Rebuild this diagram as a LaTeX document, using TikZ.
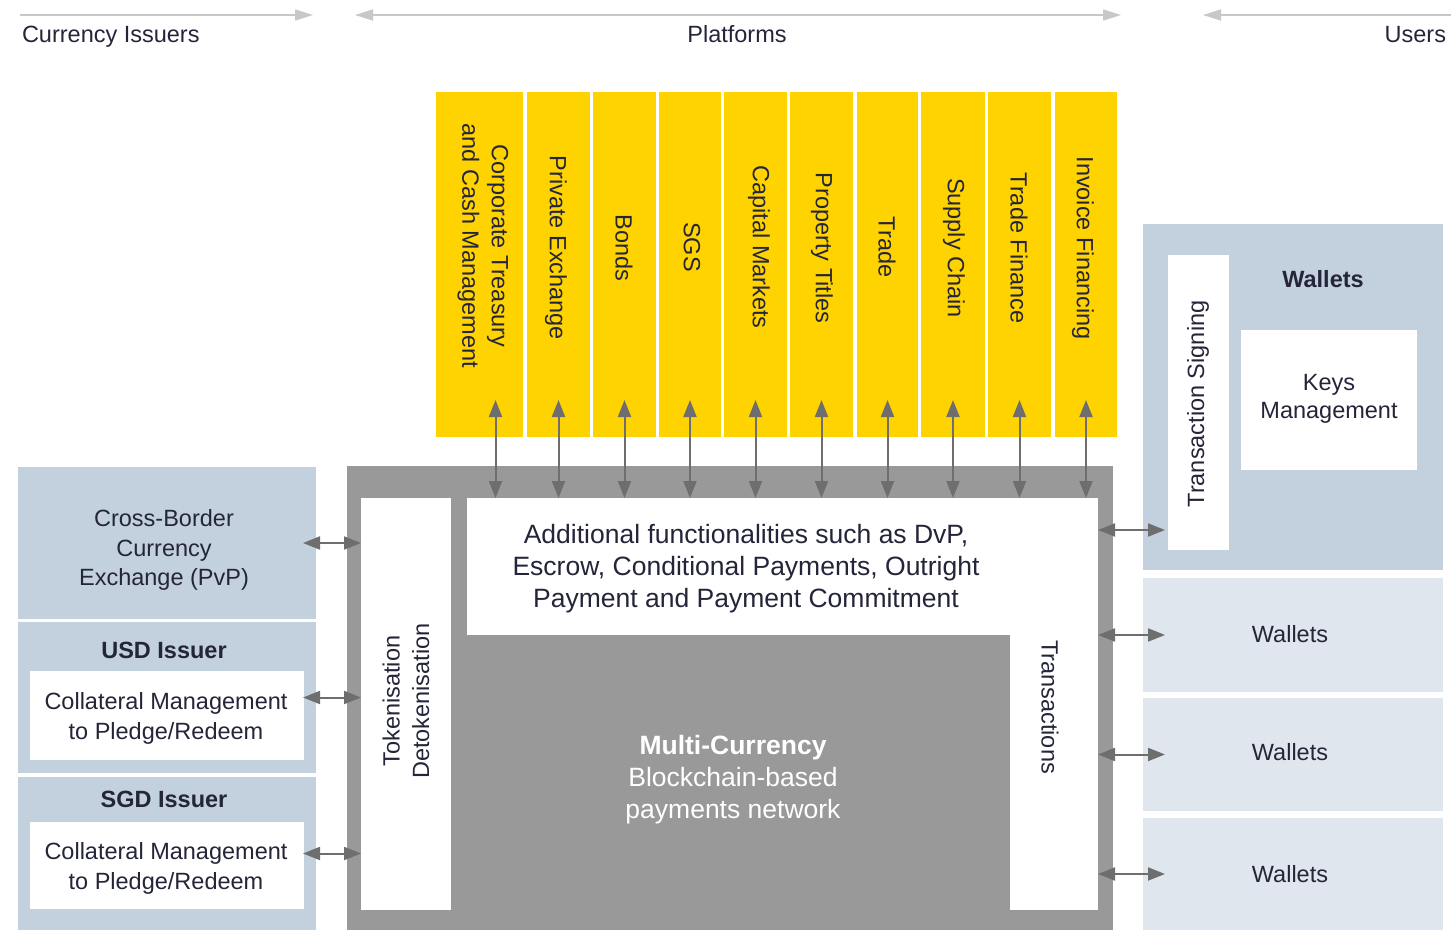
\documentclass[tikz,border=0pt]{standalone}
\usepackage{fontspec}
\setmainfont{Liberation Sans}
\usetikzlibrary{arrows.meta}
\definecolor{ylw}{HTML}{FFD300}
\definecolor{bluegray}{HTML}{C3D1DE}
\definecolor{lightwall}{HTML}{E0E6ED}
\definecolor{frameg}{HTML}{999999}
\definecolor{arrg}{HTML}{6E6E6E}
\definecolor{hdrg}{HTML}{C8C8C8}
\definecolor{txt}{HTML}{25253A}
\newcommand{\fA}{\fontsize{23.5}{29.5}\selectfont}
\newcommand{\fB}{\fontsize{26.5}{32}\selectfont}
\begin{document}
\begin{tikzpicture}[x=1pt,y=-1pt,
  every node/.style={inner sep=0pt, outer sep=0pt, text=txt, font=\fA, align=center},
  ycol/.style={fill=ylw, minimum height=345pt},
  panel/.style={fill=bluegray},
  lpanel/.style={fill=lightwall},
  wbox/.style={fill=white},
  darr/.style={draw=arrg, line width=2pt, {Triangle[length=17pt,width=13pt]}-{Triangle[length=17pt,width=13pt]}},
  harr/.style={draw=hdrg, line width=1.6pt}
]
\useasboundingbox (0,0) rectangle (1451,930);

% headers
\node[anchor=base west] (hci) at (22,42) {Currency Issuers};
\node[anchor=base] (hpl) at (737,42) {Platforms};
\node[anchor=base east] (hus) at (1446,42) {Users};
\coordinate (h1s) at (20,15);
\coordinate (h1e) at (313,15);
\coordinate (h2s) at (355,15);
\coordinate (h2e) at (1121,15);
\coordinate (h3s) at (1451,15);
\coordinate (h3e) at (1203,15);
\draw[harr, -{Triangle[length=18pt,width=11pt]}] (h1s) -- (h1e);
\draw[harr, {Triangle[length=18pt,width=11pt]}-{Triangle[length=18pt,width=11pt]}] (h2s) -- (h2e);
\draw[harr, -{Triangle[length=18pt,width=11pt]}] (h3s) -- (h3e);

% yellow columns
\node[ycol, minimum width=87pt] (c1) at (479.5,264.5) {};
\node[ycol, minimum width=63pt] (c2) at (558.5,264.5) {};
\node[ycol, minimum width=63pt] (c3) at (624.5,264.5) {};
\node[ycol, minimum width=62pt] (c4) at (690,264.5) {};
\node[ycol, minimum width=63pt] (c5) at (755.5,264.5) {};
\node[ycol, minimum width=63pt] (c6) at (821.5,264.5) {};
\node[ycol, minimum width=61pt] (c7) at (887.5,264.5) {};
\node[ycol, minimum width=64pt] (c8) at (953,264.5) {};
\node[ycol, minimum width=63pt] (c9) at (1019.5,264.5) {};
\node[ycol, minimum width=62pt] (c10) at (1086,264.5) {};

\node[rotate=-90] (l1) at (483,246) {Corporate Treasury\\and Cash Management};
\node[rotate=-90] (l2) at (556,248) {Private Exchange};
\node[rotate=-90] (l3) at (624,248) {Bonds};
\node[rotate=-90] (l4) at (692,247) {SGS};
\node[rotate=-90] (l5) at (759,247) {Capital Markets};
\node[rotate=-90] (l6) at (822,248) {Property Titles};
\node[rotate=-90] (l7) at (887,247) {Trade};
\node[rotate=-90] (l8) at (954,248) {Supply Chain};
\node[rotate=-90] (l9) at (1019,248) {Trade Finance};
\node[rotate=-90] (l10) at (1083,248) {Invoice Financing};

% central frame
\node[fill=frameg, minimum width=766pt, minimum height=464pt] (frame) at (730,698) {};
\node[wbox, minimum width=90pt, minimum height=412pt] (tok) at (406,704) {};
\node[rotate=90] (tokl) at (406,701) {Tokenisation\\Detokenisation};
\node[wbox, minimum width=631pt, minimum height=137pt] (add) at (782.5,566.5) {};
\node[font=\fB] (addl) at (746,569) {Additional functionalities such as DvP,\\Escrow, Conditional Payments, Outright\\Payment and Payment Commitment};
\node[wbox, minimum width=88pt, minimum height=280pt] (trans) at (1054,770) {};
\node[rotate=-90] (transl) at (1050,707) {Transactions};
\node[font=\fB, text=white] (multi) at (733,780) {\textbf{Multi-Currency}\\Blockchain-based\\payments network};

% left panels
\node[panel, minimum width=298pt, minimum height=152pt] (cb) at (167,543) {};
\node (cbl) at (164,550) {Cross-Border\\Currency\\Exchange (PvP)};
\node[panel, minimum width=298pt, minimum height=151pt] (usd) at (167,697.5) {};
\node[font=\fA\bfseries] (usdl) at (164,650) {USD Issuer};
\node[wbox, minimum width=274pt, minimum height=89pt] (usdc) at (167,715.5) {};
\node (usdct) at (166,718.5) {Collateral Management\\to Pledge/Redeem};
\node[panel, minimum width=298pt, minimum height=153pt] (sgd) at (167,853.5) {};
\node[font=\fA\bfseries] (sgdl) at (164,799) {SGD Issuer};
\node[wbox, minimum width=274pt, minimum height=87pt] (sgdc) at (167,865.5) {};
\node (sgdct) at (166,868.5) {Collateral Management\\to Pledge/Redeem};

% right panels
\node[panel, minimum width=300pt, minimum height=346pt] (wtop) at (1293,397) {};
\node[wbox, minimum width=61pt, minimum height=295pt] (tsig) at (1198.5,402.5) {};
\node[rotate=90] (tsigl) at (1198,404) {Transaction Signing};
\node[font=\fA\bfseries] (wtopl) at (1323,279) {Wallets};
\node[wbox, minimum width=176pt, minimum height=140pt] (keys) at (1329,400) {};
\node[font=\fontsize{23.5}{27.5}\selectfont] (keyst) at (1329,399) {Keys\\Management};
\node[lpanel, minimum width=300pt, minimum height=114pt] (w2) at (1293,635) {};
\node (w2l) at (1290,634) {Wallets};
\node[lpanel, minimum width=300pt, minimum height=113pt] (w3) at (1293,754.5) {};
\node (w3l) at (1290,752) {Wallets};
\node[lpanel, minimum width=300pt, minimum height=112pt] (w4) at (1293,874) {};
\node (w4l) at (1290,874) {Wallets};

% vertical arrows platforms <-> network
\coordinate (t1) at ([xshift=16pt,yshift=37pt]c1.south);
\draw[darr] (t1) -- (t1 |- add.north);
\foreach \c in {c2,c3,c4,c5,c6,c7,c8,c9,c10}{
  \draw[darr] ([yshift=37pt]\c.south) -- (\c.south |- add.north);
}

% left arrows
\draw[darr] ([xshift=-13pt]cb.east) -- (cb.east -| tok.west);
\draw[darr] ([xshift=-13pt]usd.east) -- (usd.east -| tok.west);
\draw[darr] ([xshift=-13pt]sgd.east) -- (sgd.east -| tok.west);

% right arrows
\coordinate (ra1) at ([xshift=-3pt,yshift=20pt]tsig.south west);
\draw[darr] (add.east |- ra1) -- (ra1);
\draw[darr] (trans.east |- w2.west) -- ([xshift=22pt]w2.west);
\draw[darr] (trans.east |- w3.west) -- ([xshift=22pt]w3.west);
\draw[darr] (trans.east |- w4.west) -- ([xshift=22pt]w4.west);
\end{tikzpicture}
\end{document}
